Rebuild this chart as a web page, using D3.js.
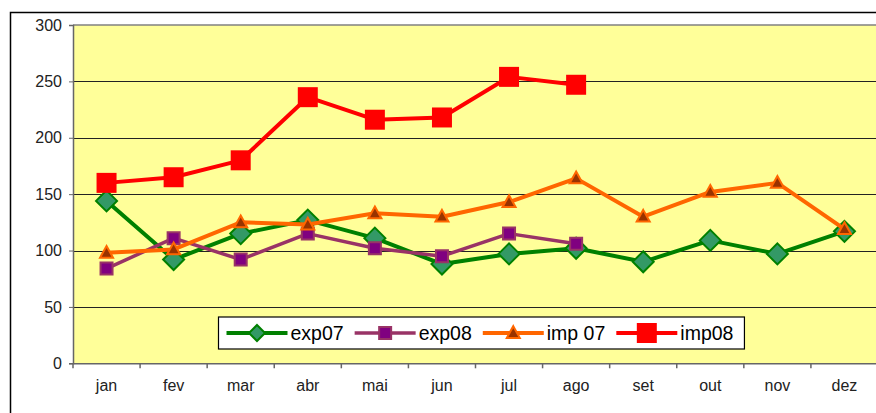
<!DOCTYPE html>
<html>
<head>
<meta charset="utf-8">
<script src="https://cdn.jsdelivr.net/npm/d3@7"></script>
<style>
  body { margin: 0; background: #fff; }
  svg { display: block; font-family: "Liberation Sans", Arial, sans-serif; }
</style>
</head>
<body>
<div id="chart"></div>
<script>
var months = ["jan", "fev", "mar", "abr", "mai", "jun", "jul", "ago", "set", "out", "nov", "dez"];
var yTicks = [0, 50, 100, 150, 200, 250, 300];

var exp07 = [144, 92, 115, 127, 111, 88, 97, 102, 90, 109, 97, 117];
var exp08 = [84, 111, 92, 115, 102, 95, 115, 106];
var imp07 = [98, 101, 125, 123, 133, 130, 143, 164, 130, 152, 160, 119];
var imp08 = [160, 165, 180, 236, 216, 218, 254, 247];

var series = [
  {name: "exp07", values: exp07, line: "#008000", lw: 4, shape: "diamond", fill: "#339966", stroke: "#008000", size: 21},
  {name: "exp08", values: exp08, line: "#993366", lw: 3.5, shape: "square", fill: "#800080", stroke: "#993366", size: 12},
  {name: "imp 07", values: imp07, line: "#FF6600", lw: 4, shape: "triangle", fill: "#993300", stroke: "#FF6600", size: 13},
  {name: "imp08", values: imp08, line: "#FF0000", lw: 4, shape: "square", fill: "#FF0000", stroke: "#FF0000", size: 20}
];

var W = 876, H = 413;
var plot = {left: 73, top: 25, right: 878, bottom: 363.3};

var svg = d3.select("#chart").append("svg")
    .attr("width", W)
    .attr("height", H);

// outer chart border (cropped at right/bottom)
svg.append("rect")
    .attr("x", 10.5).attr("y", 12.5)
    .attr("width", W).attr("height", H)
    .attr("fill", "#fff")
    .attr("stroke", "#000")
    .attr("stroke-width", 1.5);

var x = d3.scaleBand().domain(months).range([plot.left, plot.right]);
var y = d3.scaleLinear().domain([0, 300]).range([plot.bottom, plot.top]);

// plot area
svg.append("rect")
    .attr("x", plot.left).attr("y", plot.top)
    .attr("width", plot.right - plot.left)
    .attr("height", plot.bottom - plot.top)
    .attr("fill", "#FFFF99");

svg.append("line")
    .attr("x1", plot.left).attr("x2", plot.right)
    .attr("y1", plot.top).attr("y2", plot.top)
    .attr("stroke", "#808080").attr("stroke-width", 1.5);

// gridlines
svg.selectAll(".grid")
    .data(yTicks.filter(function(d) { return d > 0 && d < 300; }))
  .enter().append("line")
    .attr("class", "grid")
    .attr("x1", plot.left).attr("x2", plot.right)
    .attr("y1", function(d) { return Math.round(y(d)) + 0.5; })
    .attr("y2", function(d) { return Math.round(y(d)) + 0.5; })
    .attr("stroke", "#222")
    .attr("stroke-width", 1);

// y axis
var yAxis = d3.axisLeft(y).tickValues(yTicks).tickSize(4).tickPadding(7);
var gy = svg.append("g")
    .attr("transform", "translate(" + plot.left + ",0)")
    .call(yAxis);
gy.select(".domain").attr("stroke", "#666").attr("stroke-width", 1.5);
gy.selectAll(".tick line").attr("stroke", "#666");
gy.selectAll("text").attr("font-size", 16).attr("fill", "#222")
    .attr("font-family", "Liberation Sans, Arial, sans-serif");

// x axis
var xAxis = d3.axisBottom(x).tickSize(0).tickPadding(16);
var gx = svg.append("g")
    .attr("transform", "translate(0," + plot.bottom + ")")
    .call(xAxis);
gx.select(".domain").attr("stroke", "#666").attr("stroke-width", 1.5);
gx.selectAll("text").attr("font-size", 16).attr("fill", "#222")
    .attr("font-family", "Liberation Sans, Arial, sans-serif");
gx.selectAll(".bound")
    .data(months.concat(["end"]))
  .enter().append("line")
    .attr("class", "bound")
    .attr("x1", function(d, i) { return plot.left + i * x.step(); })
    .attr("x2", function(d, i) { return plot.left + i * x.step(); })
    .attr("y1", 0).attr("y2", 5)
    .attr("stroke", "#666").attr("stroke-width", 1.5);

function cx(i) { return x(months[i]) + x.bandwidth() / 2; }

function markerPath(shape, s) {
  var h = s / 2;
  if (shape === "diamond") return "M0," + (-h) + "L" + h + ",0L0," + h + "L" + (-h) + ",0Z";
  if (shape === "triangle") return "M0," + (-h * 1.05) + "L" + h + "," + (h * 0.75) + "L" + (-h) + "," + (h * 0.75) + "Z";
  return "M" + (-h) + "," + (-h) + "h" + s + "v" + s + "h" + (-s) + "Z";
}

var line = d3.line()
    .x(function(d, i) { return cx(i); })
    .y(function(d) { return y(d); });

series.forEach(function(s) {
  var g = svg.append("g").attr("class", "series");
  g.append("path")
      .datum(s.values)
      .attr("d", line)
      .attr("fill", "none")
      .attr("stroke", s.line)
      .attr("stroke-width", s.lw)
      .attr("stroke-linejoin", "round");
  g.selectAll(".mark")
      .data(s.values)
    .enter().append("path")
      .attr("class", "mark")
      .attr("transform", function(d, i) { return "translate(" + cx(i) + "," + y(d) + ")"; })
      .attr("d", markerPath(s.shape, s.size))
      .attr("fill", s.fill)
      .attr("stroke", s.stroke)
      .attr("stroke-width", s.shape === "square" && s.fill === s.stroke ? 0 : 2);
});

// legend
var legend = svg.append("g").attr("transform", "translate(218.5,317)");
var legBox = legend.append("rect")
    .attr("x", 0).attr("y", 0)
    .attr("height", 32)
    .attr("fill", "#fff")
    .attr("stroke", "#000")
    .attr("stroke-width", 1.2);

var lx = 8;
series.forEach(function(s) {
  var e = legend.append("g").attr("transform", "translate(" + lx + ",16)");
  e.append("line")
      .attr("x1", 0).attr("x2", 61)
      .attr("y1", 0).attr("y2", 0)
      .attr("stroke", s.line)
      .attr("stroke-width", s.lw);
  e.append("path")
      .attr("transform", "translate(30.5,0)")
      .attr("d", markerPath(s.shape, s.shape === "diamond" ? 16 : s.size))
      .attr("fill", s.fill)
      .attr("stroke", s.stroke)
      .attr("stroke-width", s.shape === "square" && s.fill === s.stroke ? 0 : 2);
  var t = e.append("text")
      .attr("x", 64)
      .attr("y", 6.5)
      .attr("font-size", 19.5)
      .attr("fill", "#000")
      .text(s.name);
  lx += 64 + t.node().getComputedTextLength() + 11;
});
legBox.attr("width", lx);
</script>
</body>
</html>
